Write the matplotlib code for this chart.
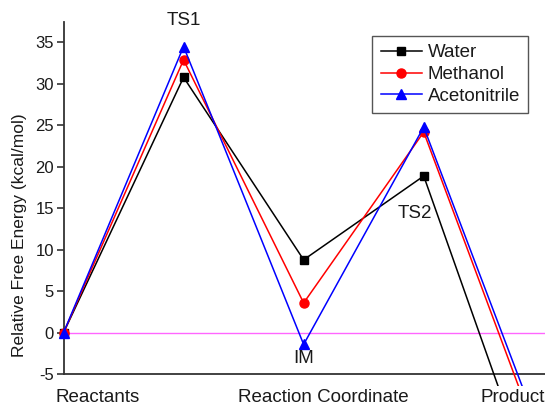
import matplotlib
matplotlib.use("Agg")
import matplotlib.pyplot as plt
from matplotlib.patches import Rectangle

plt.rcParams['font.family'] = ['Liberation Sans', 'DejaVu Sans']

stages = [0, 1, 2, 3, 4]
stage_names = ["Reactants", "TS1", "IM", "TS2", "Product"]
water = [0.0, 30.8, 8.8, 18.9, -22.0]
methanol = [0.0, 32.9, 3.6, 24.2, -14.6]
acetonitrile = [0.0, 34.5, -1.4, 24.8, -13.3]
yticks = [-5, 0, 5, 10, 15, 20, 25, 30, 35]

W, H = 545, 407
fig = plt.figure(figsize=(W / 100, H / 100), dpi=100)
ax_left, ax_right, ax_bottom, ax_top = 63.5, 545, 374.3, 21.7
ax = fig.add_axes([ax_left / W, 1 - ax_bottom / H, (ax_right - ax_left) / W, (ax_bottom - ax_top) / H])

ax.set_xlim(0, 4.01)
ax.set_ylim(-5, 37.5)

ax.axhline(0, color='#ff66ff', lw=1.0, zorder=1)

clip = Rectangle((-0.05, -0.032), 1.1, 1.1, transform=ax.transAxes, visible=False)
ax.add_patch(clip)

series = [
    ("Water", water, 'black', 's', 6),
    ("Methanol", methanol, 'red', 'o', 6.5),
    ("Acetonitrile", acetonitrile, 'blue', '^', 7),
]
for name, vals, col, mk, ms in series:
    line, = ax.plot(stages, vals, color=col, marker=mk, markersize=ms, lw=1.1, label=name, zorder=3)
    line.set_clip_path(clip)

for sp in ['top', 'right']:
    ax.spines[sp].set_visible(False)
for sp in ['left', 'bottom']:
    ax.spines[sp].set_color('#333333')
    ax.spines[sp].set_linewidth(1.3)

ax.set_yticks(yticks)
ax.set_yticklabels([str(v) for v in yticks], fontsize=12, color='#1a1a1a')
ax.tick_params(axis='y', direction='out', length=5, width=1.2, color='#333333', pad=2)
ax.set_xticks([])

ax.set_ylabel("Relative Free Energy (kcal/mol)", fontsize=12.5, color='#1a1a1a')
ax.yaxis.set_label_coords(-0.076, 0.395)

# stage labels
txt = dict(ha='center', va='center', fontsize=13.5, color='#1a1a1a', clip_on=False)
ax.text(1, 37.7, stage_names[1], **txt)
ax.text(2.93, 14.4, stage_names[3], **txt)
ax.text(2, -3.1, stage_names[2], **txt)
ax.text(0.285, -7.8, stage_names[0], **txt)
ax.text(2.16, -7.8, "Reaction Coordinate", **txt)
ax.text(3.74, -7.8, stage_names[4], **txt)

leg = ax.legend(loc='upper right', bbox_to_anchor=(528.3 / W, 1 - 35.7 / H), bbox_transform=fig.transFigure,
                fontsize=13.5, frameon=True, fancybox=False, edgecolor='#555555', framealpha=1,
                handlelength=2.2, labelspacing=0.25, borderpad=0.45, handletextpad=0.3, borderaxespad=0)
leg.get_frame().set_linewidth(1.0)
for t in leg.get_texts():
    t.set_color('#1a1a1a')

fig.savefig("out.png", dpi=100)
